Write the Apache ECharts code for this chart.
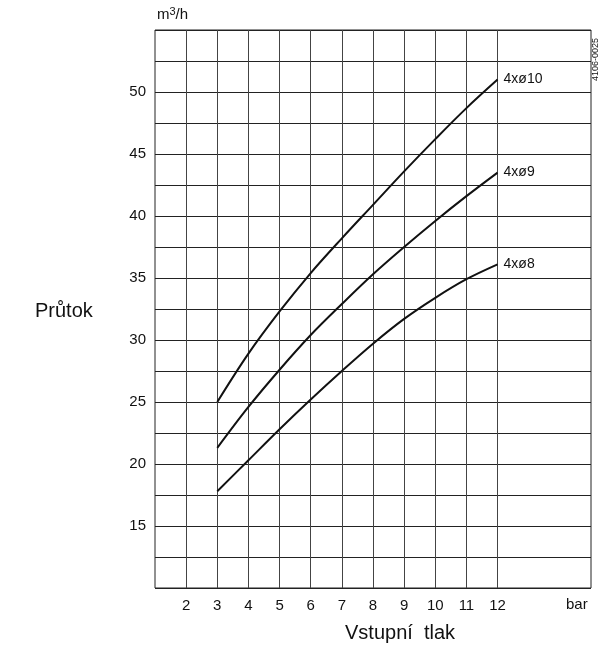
<!DOCTYPE html>
<html>
<head>
<meta charset="utf-8">
<script src="https://cdn.jsdelivr.net/npm/echarts@6/dist/echarts.min.js"></script>
<style>
html,body{margin:0;padding:0;background:#fff;}
#c{width:602px;height:649px;}
</style>
</head>
<body>
<div id="c"></div>
<script>
var pressure = [3, 4, 5, 6, 7, 8, 9, 10, 11, 12];
var flow10 = [25.0, 28.9, 32.3, 35.4, 38.2, 40.9, 43.6, 46.2, 48.7, 51.0];
var flow9 = [21.3, 24.6, 27.6, 30.4, 32.9, 35.3, 37.5, 39.6, 41.6, 43.5];
var flow8 = [17.8, 20.3, 22.8, 25.2, 27.5, 29.7, 31.7, 33.4, 34.9, 36.1];
var seriesNames = ['4xø10', '4xø9', '4xø8'];
var xTickLabels = [2, 3, 4, 5, 6, 7, 8, 9, 10, 11, 12];
var yTickLabels = [15, 20, 25, 30, 35, 40, 45, 50];
var xGridLines = [2, 3, 4, 5, 6, 7, 8, 9, 10, 11, 12];

var FONT = '"Liberation Sans", Arial, sans-serif';
function pairs(xs, ys) { return xs.map(function (x, i) { return [x, ys[i]]; }); }
function curve(name, ys) {
  return {
    name: name, type: 'line', data: pairs(pressure, ys), smooth: 0.35,
    symbol: 'none', lineStyle: { color: '#111', width: 2 },
    endLabel: { show: true, formatter: '{a}', color: '#111', fontSize: 14, fontFamily: FONT, distance: 6 },
    z: 5, animation: false
  };
}
var chart = echarts.init(document.getElementById('c'), null, { renderer: 'canvas' });
chart.setOption({
  animation: false,
  grid: { left: 155, right: 11, top: 30, bottom: 61, show: true, borderColor: '#222', borderWidth: 1, containLabel: false },
  xAxis: {
    type: 'value', min: 1, max: 15, interval: 1,
    axisLine: { show: false }, axisTick: { show: false }, splitLine: { show: false },
    axisLabel: {
      color: '#111', fontSize: 15, fontFamily: FONT, margin: 10,
      formatter: function (v) { return xTickLabels.indexOf(v) >= 0 ? String(v) : ''; }
    }
  },
  yAxis: {
    type: 'value', min: 10, max: 55, interval: 2.5,
    axisLine: { show: false }, axisTick: { show: false },
    splitLine: { show: true, lineStyle: { color: '#222', width: 1 } },
    axisLabel: {
      color: '#111', fontSize: 15, fontFamily: FONT, margin: 9,
      formatter: function (v) { return yTickLabels.indexOf(v) >= 0 ? String(v) : ''; }
    }
  },
  graphic: [
    { type: 'text', left: 157, top: 6, style: { text: 'm{s|3}/h', fill: '#111', font: '15px ' + FONT, rich: { s: { fontSize: 11, verticalAlign: 'top', padding: [0, 0, 6, 0], fontFamily: FONT } } } },
    { type: 'text', left: 35, top: 301, style: { text: 'Průtok', fill: '#111', font: '20px ' + FONT } },
    { type: 'text', left: 345, top: 623, style: { text: 'Vstupní  tlak', fill: '#111', font: '20px ' + FONT } },
    { type: 'text', left: 566, top: 597, style: { text: 'bar', fill: '#111', font: '15px ' + FONT } },
    { type: 'text', x: 591, y: 81, rotation: Math.PI / 2, style: { text: '4106-0025', fill: '#111', font: '9px ' + FONT } }
  ],
  series: [
    curve(seriesNames[0], flow10),
    curve(seriesNames[1], flow9),
    curve(seriesNames[2], flow8),
    {
      type: 'line', data: [], silent: true,
      markLine: {
        silent: true, symbol: 'none', label: { show: false }, animation: false,
        lineStyle: { color: '#444', width: 1, type: 'solid' },
        data: xGridLines.map(function (x) { return { xAxis: x }; })
      }
    }
  ]
});
</script>
</body>
</html>
